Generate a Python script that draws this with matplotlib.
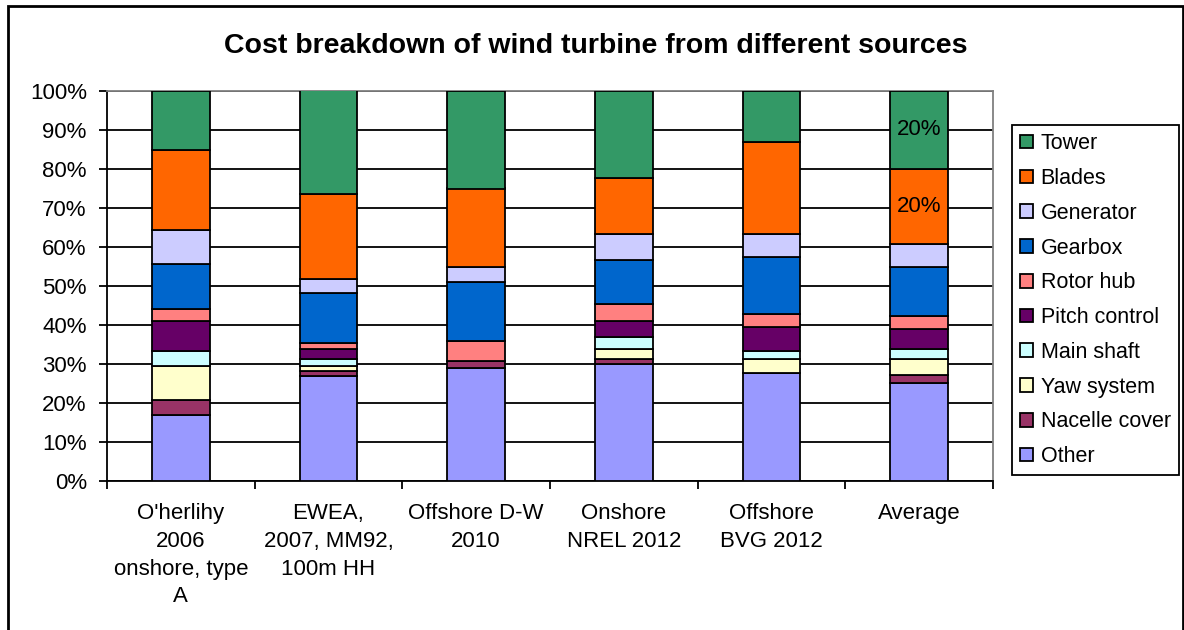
import matplotlib
matplotlib.use('Agg')
import matplotlib.pyplot as plt
from matplotlib.patches import Rectangle
from matplotlib.ticker import PercentFormatter, FixedLocator
import numpy as np

plt.rcParams['font.family'] = ['Liberation Sans', 'DejaVu Sans']

sources = ["O'herlihy\n2006\nonshore, type\nA", "EWEA,\n2007, MM92,\n100m HH",
           "Offshore D-W\n2010", "Onshore\nNREL 2012", "Offshore\nBVG 2012", "Average"]

# stacked from bottom to top, values in %
other = [17.0, 26.9, 29.1, 30.0, 27.8, 25.2]
nacelle_cover = [3.8, 1.4, 1.7, 1.2, 0.0, 2.0]
yaw_system = [8.8, 1.3, 0.0, 2.7, 3.5, 4.0]
main_shaft = [3.8, 1.6, 0.0, 2.9, 2.1, 2.6]
pitch_control = [7.7, 2.6, 0.0, 4.3, 6.0, 5.2]
rotor_hub = [2.9, 1.7, 5.2, 4.3, 3.5, 3.4]
gearbox = [11.7, 12.8, 15.0, 11.2, 14.5, 12.4]
generator = [8.6, 3.5, 3.8, 6.8, 6.0, 6.0]
blades = [20.5, 21.9, 20.2, 14.2, 23.6, 19.3]
tower = [15.2, 26.6, 25.0, 22.4, 13.0, 19.9]

components = ['Other', 'Nacelle cover', 'Yaw system', 'Main shaft', 'Pitch control',
              'Rotor hub', 'Gearbox', 'Generator', 'Blades', 'Tower']
series = [other, nacelle_cover, yaw_system, main_shaft, pitch_control,
          rotor_hub, gearbox, generator, blades, tower]
colors = ['#9999FF', '#993366', '#FFFFCC', '#CCFFFF', '#660066',
          '#FF8080', '#0066CC', '#CCCCFF', '#FF6600', '#339966']

fig = plt.figure(figsize=(11.84, 6.3), dpi=100)
ax = fig.add_axes([107/1184, 1-481/630, 886/1184, 390/630])

x = np.arange(len(sources))
bottom = np.zeros(len(sources))
containers = {}
for name, vals, col in zip(components, series, colors):
    vals = np.array(vals)
    bars = ax.bar(x, vals, 0.39, bottom=bottom, color=col, edgecolor='black',
                  linewidth=1.3, label=name, zorder=3)
    containers[name] = (bars, vals, bottom.copy())
    bottom = bottom + vals

# labels on the Average bar
for name in ['Tower', 'Blades']:
    bars, vals, bot = containers[name]
    ax.text(x[-1], bot[-1] + vals[-1]/2, '20%', ha='center', va='center',
            fontsize=16, zorder=4)

ax.set_xlim(-0.5, len(sources) - 0.5)
ax.set_ylim(0, 100)
ax.yaxis.set_major_locator(FixedLocator(np.arange(0, 101, 10)))
ax.yaxis.set_major_formatter(PercentFormatter(decimals=0))
ax.grid(axis='y', color='black', linewidth=1.3, zorder=0)
ax.set_axisbelow(True)

ax.set_xticks(x)
ax.set_xticklabels(sources, fontsize=16, linespacing=1.42)
ax.set_xticks(np.arange(-0.5, len(sources)), minor=True)
ax.tick_params(axis='x', which='major', length=0, pad=16)
ax.tick_params(axis='x', which='minor', length=5.5, width=1.3, direction='out')
ax.tick_params(axis='y', length=5.5, width=1.3, direction='out', pad=9, labelsize=16)

for side in ['left', 'bottom']:
    ax.spines[side].set_color('black')
    ax.spines[side].set_linewidth(1.3)
for side in ['top', 'right']:
    ax.spines[side].set_color('#808080')
    ax.spines[side].set_linewidth(1.3)

fig.text(596/1184, 1-46/630, 'Cost breakdown of wind turbine from different sources',
         ha='center', va='center', fontsize=20.5, fontweight='bold',
         family=['Liberation Sans Narrow', 'Liberation Sans'])

handles, labels = ax.get_legend_handles_labels()
leg = fig.legend(handles[::-1], labels[::-1], loc='upper left',
                 bbox_to_anchor=(1012/1184, 1-125/630), borderaxespad=0,
                 fontsize=15.5, frameon=True, fancybox=False, edgecolor='black',
                 framealpha=1, handlelength=0.6, handleheight=0.6,
                 handletextpad=0.35, labelspacing=0.64, borderpad=0.38)
leg.get_frame().set_linewidth(1.3)

fig.patches.append(Rectangle((8/1184, -0.02), 1175/1184, 1.02 - 6/630,
                             transform=fig.transFigure, fill=False,
                             edgecolor='black', linewidth=2))

fig.savefig('out.png', dpi=100)
